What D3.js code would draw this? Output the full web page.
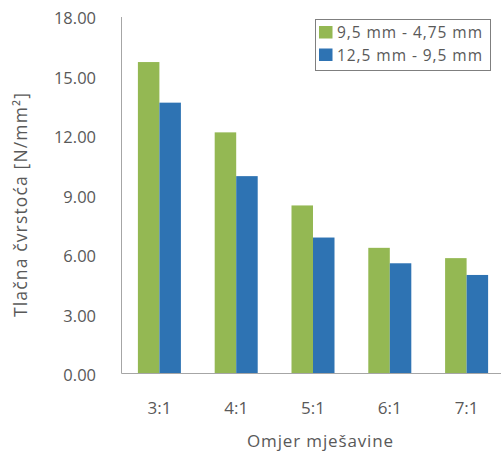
<!DOCTYPE html>
<html><head><meta charset="utf-8">
<script src="https://cdn.jsdelivr.net/npm/d3@7"></script>
<style>body{margin:0;background:#fff}svg{display:block}text{font-family:"Open Sans",sans-serif;fill:#595959}</style>
</head><body><svg id="c" width="501" height="451"></svg>
<script>
const categories = ["3:1","4:1","5:1","6:1","7:1"];
const seriesNames = ["9,5 mm - 4,75 mm","12,5 mm - 9,5 mm"];
const seriesA = [15.7, 12.15, 8.46, 6.32, 5.8];
const seriesB = [13.65, 9.94, 6.84, 5.54, 4.95];
const yTicks = [0,3,6,9,12,15,18];
const colors = ["#94b853","#2e73b3"];

(function(){
const svg = d3.select("#c");
const mL = 121, mR = 505, mT = 16.5, mB = 373;
const x = d3.scaleBand().domain(categories).range([mL,mR]).paddingInner(0.44).paddingOuter(0.22);
const xs = d3.scaleBand().domain([0,1]).range([0,x.bandwidth()]);
const y = d3.scaleLinear().domain([0,18]).range([mB,mT]);

[seriesA, seriesB].forEach((s,si)=>{
  svg.append("g").selectAll("rect").data(s).join("rect")
    .attr("x",(d,i)=>x(categories[i])+xs(si))
    .attr("y",d=>y(d))
    .attr("width",xs.bandwidth())
    .attr("height",d=>y(0)-y(d))
    .attr("fill",colors[si]);
});

const ya = svg.append("g").attr("transform",`translate(${mL},0)`)
  .call(d3.axisLeft(y).tickValues(yTicks).tickFormat(d3.format(".2f")).tickSize(0).tickPadding(25));
ya.select(".domain").attr("stroke","#a6a6a6");
ya.selectAll("text").attr("dy","0.45em").style("font-size","16.5px").attr("fill","#595959").style("font-family","Open Sans");
const xa = svg.append("g").attr("transform",`translate(0,${mB})`)
  .call(d3.axisBottom(x).tickSize(0).tickPadding(29));
xa.select(".domain").attr("stroke","#a6a6a6");
xa.selectAll("text").style("font-size","17px").attr("fill","#595959").style("font-family","Open Sans");

svg.append("text").attr("x",320).attr("y",447).attr("text-anchor","middle").style("font-size","17px")
  .attr("textLength",146).attr("lengthAdjust","spacing").text("Omjer mješavine");
svg.append("text").attr("transform","translate(27,205) rotate(-90)").attr("text-anchor","middle").style("font-size","17.5px")
  .attr("textLength",224).attr("lengthAdjust","spacing").text("Tlačna čvrstoća [N/mm²]");

const lg = svg.append("g");
lg.append("rect").attr("x",315.5).attr("y",19.5).attr("width",175).attr("height",51).attr("fill","#fff").attr("stroke","#7f7f7f");
seriesNames.forEach((n,i)=>{
  lg.append("rect").attr("x",319).attr("y",26+i*22.5).attr("width",13.5).attr("height",12.5).attr("fill",colors[i]);
  lg.append("text").attr("x",337).attr("y",38+i*22.5).style("font-size","15.5px")
    .attr("textLength",145).attr("lengthAdjust","spacing").text(n);
});
})();
</script></body></html>
